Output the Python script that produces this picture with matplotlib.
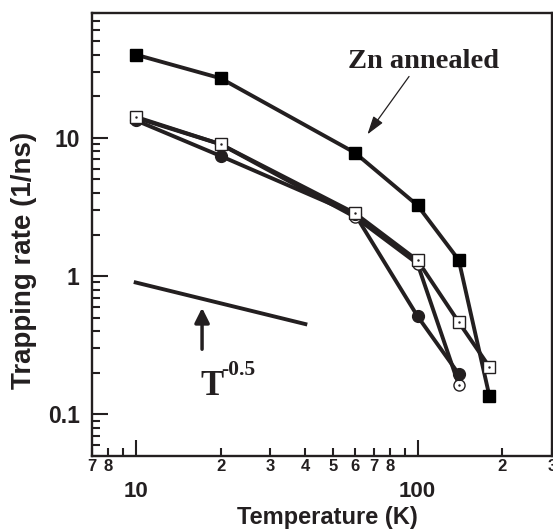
import matplotlib
matplotlib.use('Agg')
import numpy as np
from matplotlib import pyplot as plt
from matplotlib.ticker import LogLocator, FixedLocator, FuncFormatter, NullFormatter

# temperatures (K)
temp = [10, 20, 60, 100, 140, 180]
temp_c = [10, 20, 60, 100, 140]

# trapping rates (1/ns)
zn_annealed = [40, 27, 7.8, 3.25, 1.31, 0.135]
open_sq = [14.2, 9.0, 2.85, 1.30, 0.465, 0.22]
filled_circ = [13.4, 7.4, 2.8, 0.513, 0.196]
open_circ = [14.0, 9.0, 2.68, 1.23, 0.164]

# T^-0.5 guide line
guide_t = [10, 40]
guide_y = [0.9, 0.45]

ink = '#231f20'
sans = 'Liberation Sans'
serif = 'Liberation Serif'

fig = plt.figure(figsize=(5.53, 5.31), dpi=100)
ax = fig.add_axes([0.1664, 0.1412, 0.8318, 0.8343])
ax.set_xscale('log')
ax.set_yscale('log')
ax.set_xlim(7, 300)
ax.set_ylim(0.05, 80)

lw = 2.8
ax.plot(temp_c, open_circ, '-', color=ink, lw=lw, zorder=2)
ax.plot(temp_c, filled_circ, '-', color=ink, lw=lw, zorder=2)
ax.plot(temp, open_sq, '-', color=ink, lw=lw, zorder=2)
ax.plot(temp, zn_annealed, '-', color=ink, lw=lw, zorder=2)

ax.plot(temp_c, open_circ, 'o', ms=8, mfc='white', mec=ink, mew=1.0, zorder=3)
ax.plot(temp_c, open_circ, '.', ms=1.5, color=ink, zorder=3)
ax.plot(temp_c, filled_circ, 'o', ms=8.5, mfc=ink, mec=ink, zorder=4)
ax.plot(temp, open_sq, 's', ms=8.5, mfc='white', mec=ink, mew=1.0, zorder=5)
ax.plot(temp, open_sq, '.', ms=1.5, color=ink, zorder=5)
ax.plot(temp, zn_annealed, 's', ms=9, mfc='black', mec='black', zorder=6)

ax.plot(guide_t, guide_y, '-', color=ink, lw=lw)
ax.annotate('', xy=(17.2, 0.59), xytext=(17.2, 0.296),
            arrowprops=dict(arrowstyle='-|>', color=ink, lw=2.5,
                            mutation_scale=22, shrinkA=0, shrinkB=0))
ax.text(17.0, 0.139, 'T', fontsize=25, fontweight='bold',
        family=serif, color=ink, ha='left', va='baseline')
ax.annotate('-0.5', xy=(17.0, 0.139), xytext=(14.6, 14.4), textcoords='offset points',
            fontsize=15.5, fontweight='bold', family=serif, color=ink,
            ha='left', va='baseline')

ax.text(105, 32, 'Zn annealed', fontsize=20.5, fontweight='bold', family=serif,
        color=ink, ha='center', va='baseline')
ax.annotate('', xy=(66.4, 10.6), xytext=(93.3, 27.8),
            arrowprops=dict(arrowstyle='-|>,head_length=0.8,head_width=0.25',
                            color=ink, lw=0.9, mutation_scale=14,
                            shrinkA=0, shrinkB=0))

# ticks
ax.xaxis.set_major_locator(FixedLocator([10, 100]))
ax.xaxis.set_minor_locator(FixedLocator([7, 8, 9, 20, 30, 40, 50, 60, 70, 80, 90, 200, 300]))


def minor_fmt(v, pos):
    d = int(round(v / 10 ** np.floor(np.log10(v) + 1e-9)))
    return '' if d == 9 else str(d)


ax.xaxis.set_major_formatter(FuncFormatter(lambda v, p: '%d' % v))
ax.xaxis.set_minor_formatter(FuncFormatter(minor_fmt))
ax.yaxis.set_major_locator(FixedLocator([0.1, 1, 10]))
ax.yaxis.set_major_formatter(FuncFormatter(lambda v, p: '%g' % v))
ax.yaxis.set_minor_locator(LogLocator(base=10, subs=np.arange(2, 10), numticks=20))
ax.yaxis.set_minor_formatter(NullFormatter())

ax.tick_params(which='both', direction='in', color=ink, width=1.5)
ax.tick_params(which='major', length=11.5)
ax.tick_params(which='minor', length=5.8)
ax.tick_params(axis='x', which='major', pad=17.8, labelsize=16)
ax.tick_params(axis='x', which='minor', pad=2.5, labelsize=12)
ax.tick_params(axis='y', which='major', pad=9, labelsize=16.5)
for lab in ax.get_xticklabels(which='both') + ax.get_yticklabels():
    lab.set_fontweight('bold')
    lab.set_family(sans)
    lab.set_color(ink)

for sp in ax.spines.values():
    sp.set_linewidth(1.7)
    sp.set_color(ink)

ax.set_xlabel('Temperature (K)', fontsize=17, fontweight='bold', family=sans,
              color=ink)
ax.xaxis.set_label_coords(0.512, -0.112)
ax.set_ylabel('Trapping rate (1/ns)', fontsize=20, fontweight='bold', family=sans,
              color=ink)
ax.yaxis.set_label_coords(-0.12, 0.442)

fig.savefig('out.png', dpi=100)
